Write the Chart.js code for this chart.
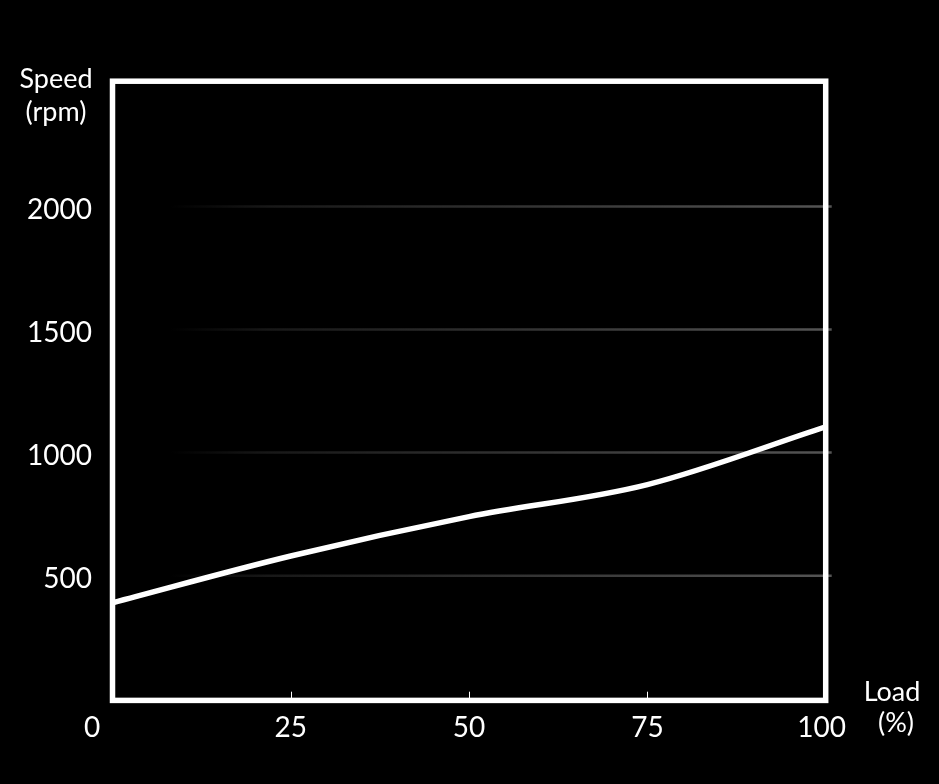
<!DOCTYPE html>
<html>
<head>
<meta charset="utf-8">
<script src="https://cdn.jsdelivr.net/npm/chart.js@4"></script>
<style>
  html,body{margin:0;padding:0;background:#000;}
  #wrap{width:939px;height:784px;}
</style>
</head>
<body>
<div id="wrap"><canvas id="speedChart" width="939" height="784"></canvas></div>
<script>
// ==========================
// DATA
// ==========================
const loadPct = [0, 25, 50, 75, 100];
const speedRpm = [390, 580, 740, 870, 1105];

const xTicks = [0, 25, 50, 75, 100];
const yTicks = [500, 1000, 1500, 2000];

const FONT = "Lato, 'Open Sans', sans-serif";

// ==========================
// FRAME / GRID / LABELS
// ==========================
const framePlugin = {
  id: "frame",
  beforeDraw(chart){
    const c = chart.ctx;
    c.save();
    c.fillStyle = "#000";
    c.fillRect(0, 0, chart.width, chart.height);
    c.restore();
  },
  beforeDatasetsDraw(chart){
    const c = chart.ctx, a = chart.chartArea;
    const x = chart.scales.x, y = chart.scales.y;

    // faded gridlines
    const g = c.createLinearGradient(170, 0, a.right + 6, 0);
    g.addColorStop(0, "rgba(80,80,80,0)");
    g.addColorStop(0.15, "rgba(80,80,80,0.3)");
    g.addColorStop(1, "rgba(85,85,85,1)");
    c.save();
    c.strokeStyle = g;
    c.lineWidth = 2.5;
    yTicks.forEach(v=>{
      const py = y.getPixelForValue(v);
      c.beginPath();
      c.moveTo(170, py);
      c.lineTo(a.right + 6, py);
      c.stroke();
    });

    // small tick marks on bottom axis
    c.strokeStyle = "#fff";
    c.lineWidth = 1;
    xTicks.slice(1, -1).forEach(v=>{
      const px = Math.round(x.getPixelForValue(v)) + 0.5;
      c.beginPath();
      c.moveTo(px, a.bottom - 7);
      c.lineTo(px, a.bottom);
      c.stroke();
    });
    c.restore();
  },
  afterDatasetsDraw(chart){
    const c = chart.ctx, a = chart.chartArea;
    c.save();
    c.strokeStyle = "#fff";
    c.lineWidth = 5.5;
    c.strokeRect(a.left, a.top - 2.3, a.right - a.left, a.bottom - a.top + 4);
    c.restore();
  },
  afterDraw(chart){
    const c = chart.ctx, a = chart.chartArea;
    const x = chart.scales.x, y = chart.scales.y;
    c.save();
    c.fillStyle = "#fff";
    c.font = "28px " + FONT;
    c.textBaseline = "middle";

    // y tick labels
    c.textAlign = "right";
    yTicks.forEach(v=>{
      c.fillText(String(v), 92, y.getPixelForValue(v) + 3);
    });

    // x tick labels
    c.textAlign = "center";
    xTicks.forEach(v=>{
      let px = x.getPixelForValue(v);
      if(v === 0) px = 92;
      else if(v === 100) px -= 4;
      c.fillText(String(v), px, 728);
    });

    // axis titles
    c.font = "27px " + FONT;
    c.fillText("Speed", 56, 79);
    c.fillText("(rpm)", 56, 112);
    c.fillText("Load", 892, 692);
    c.fillText("(%)", 896, 723);
    c.restore();
  }
};

// ==========================
// CHART
// ==========================
new Chart(document.getElementById("speedChart"), {
  type: "line",
  data: {
    datasets: [{
      data: loadPct.map((v,i)=>({x:v, y:speedRpm[i]})),
      borderColor: "#fff",
      borderWidth: 5.5,
      pointRadius: 0,
      cubicInterpolationMode: "monotone",
      fill: false
    }]
  },
  options: {
    responsive: false,
    animation: false,
    layout: {padding: {left: 112.5, right: 113.3, top: 83.5, bottom: 85.3}},
    plugins: {legend: {display: false}, tooltip: {enabled: false}},
    scales: {
      x: {type: "linear", min: 0, max: 100, display: false},
      y: {min: 0, max: 2500, display: false}
    }
  },
  plugins: [framePlugin]
});
</script>
</body>
</html>
